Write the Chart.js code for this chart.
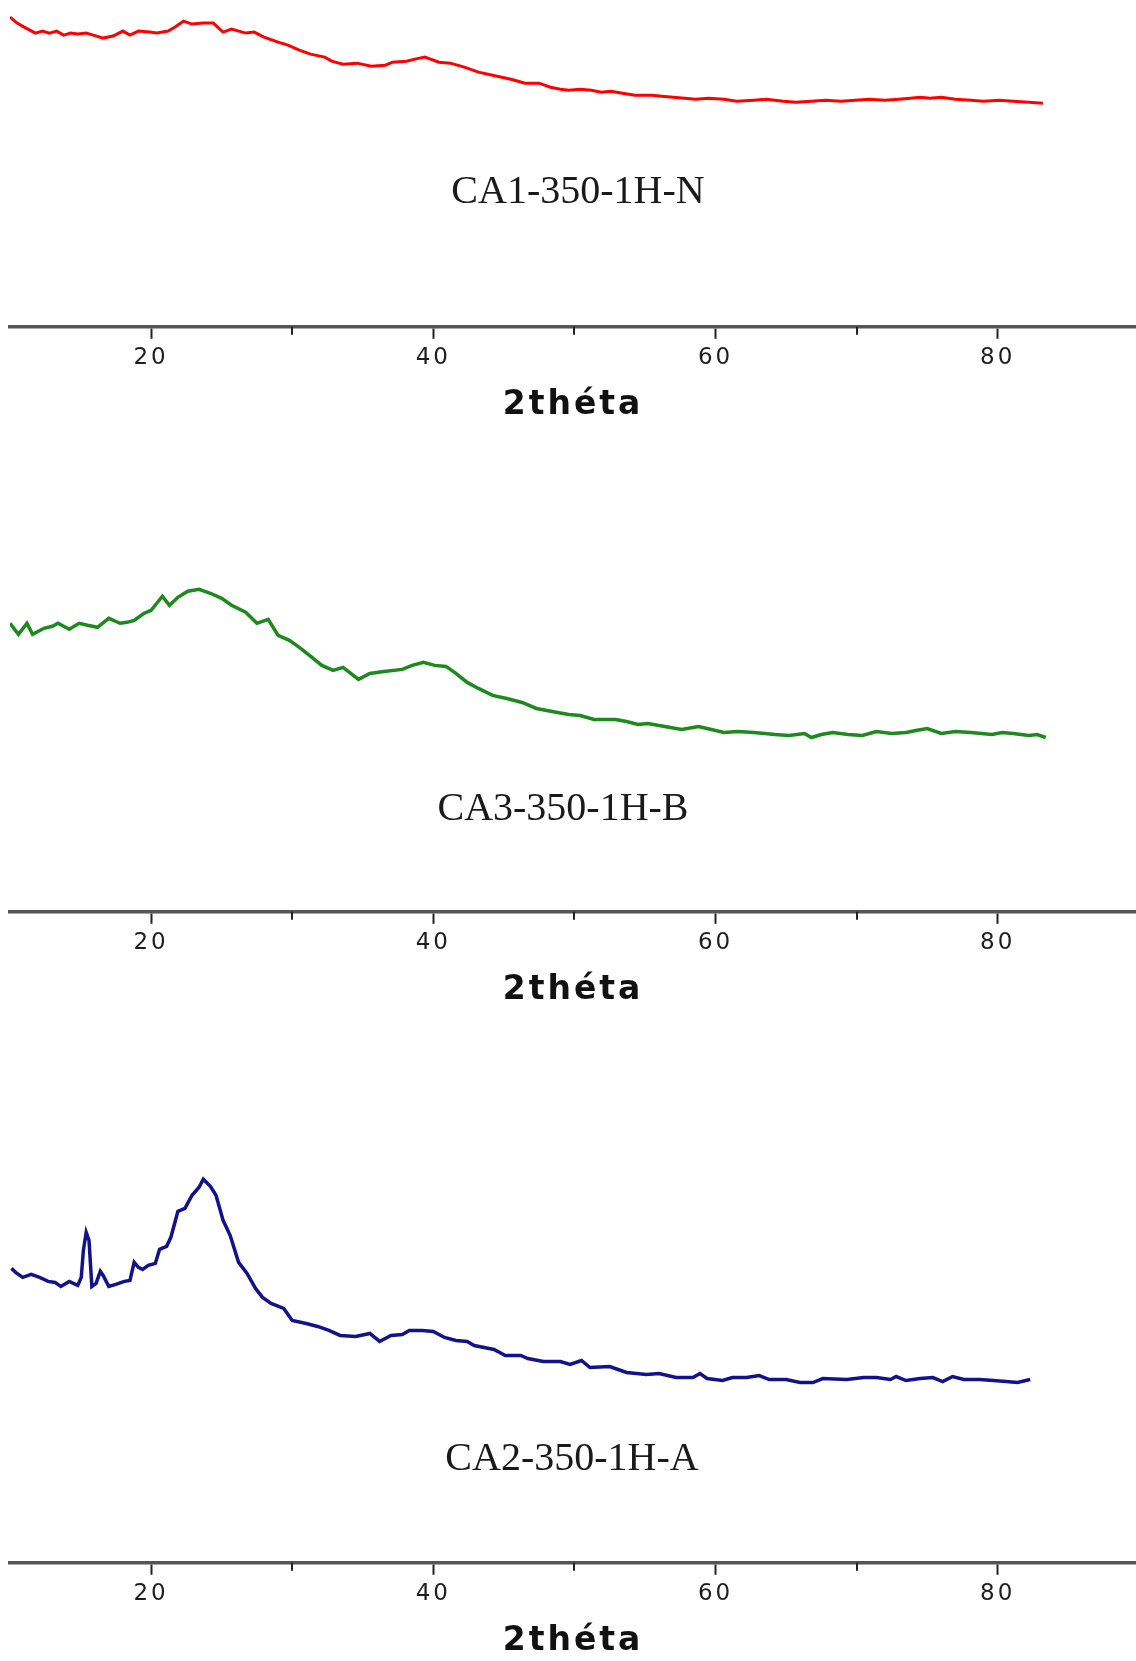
<!DOCTYPE html>
<html lang="fr">
<head>
    <meta charset="UTF-8">
    <title>DRX - 2théta</title>
    <script src="https://cdn.jsdelivr.net/npm/chart.js"></script>
    <style>
        body {
            margin: 0;
            background: #ffffff;
            width: 1136px;
            height: 1661px;
            overflow: hidden;
            position: relative;
        }

        canvas {
            position: absolute;
            left: 0;
        }

        #c1 { top: 0; }
        #c2 { top: 430px; }
        #c3 { top: 1012px; }

        /* sample names sit inside the plots */
        .sample {
            position: absolute;
            font-family: "Liberation Serif", "Times New Roman", serif;
            font-size: 40px;
            line-height: 40px;
            color: #1a1a1a;
            white-space: nowrap;
            transform: translateX(-50%);
        }
        #s1 { left: 578px; top: 170px; }
        #s2 { left: 563px; top: 787px; }
        #s3 { left: 572px; top: 1437px; }
    </style>
</head>
<body>
    <canvas id="c1" width="1136" height="425"></canvas>
    <canvas id="c2" width="1136" height="580"></canvas>
    <canvas id="c3" width="1136" height="649"></canvas>

    <div class="sample" id="s1"></div>
    <div class="sample" id="s2"></div>
    <div class="sample" id="s3"></div>

    <script>
        // [2theta, intensity] (intensity = height above the axis)
        const redPattern = [
            [10.0,309],[10.5,303],[11.0,299],[11.4,296],[11.8,293],[12.3,295],[12.8,293],[13.3,295],[13.8,291],[14.3,293],
            [14.8,292],[15.4,293],[15.9,291],[16.6,288],[17.3,290],[18.0,295],[18.5,291],[19.1,295],[19.9,294],[20.4,293],
            [21.2,295],[21.7,299],[22.3,305],[22.9,302],[23.7,303],[24.4,303],[25.1,294],[25.7,297],[26.7,293],[27.3,294],
            [28.0,289],[29.0,284],[29.7,281],[30.5,276],[31.3,272],[32.3,269],[32.8,265],[33.6,262],[34.6,263],[35.6,260],
            [36.6,261],[37.1,264],[38.1,265],[38.7,267],[39.4,269],[40.4,264],[41.2,263],[42.2,259],[43.2,254],[44.2,251],
            [45.5,247],[46.5,243],[47.5,243],[48.3,239],[49.0,237],[49.6,236],[50.4,237],[51.2,236],[51.9,234],[52.6,235],
            [53.4,233],[54.3,231],[55.5,231],[56.2,230],[57.0,229],[57.8,228],[58.6,227],[59.5,228],[60.6,227],[61.5,225],
            [62.7,226],[63.6,227],[64.8,225],[65.7,224],[66.8,225],[67.8,226],[68.9,225],[69.9,226],[70.9,227],[72.0,226],
            [73.0,227],[73.8,228],[74.5,229],[75.2,228],[76.0,229],[77.0,227],[78.1,226],[79.0,225],[80.1,226],[81.1,225],
            [82.2,224],[83.2,223]
        ];

        const greenPattern = [
            [10.0,288],[10.6,277],[11.2,288],[11.6,277],[12.4,283],[13.0,285],[13.4,288],[14.2,282],[14.9,288],[15.5,286],
            [16.2,284],[17.0,293],[17.8,288],[18.3,289],[18.8,291],[19.5,298],[20.0,301],[20.8,315],[21.3,306],[21.9,314],
            [22.6,320],[23.4,322],[24.2,318],[25.0,313],[25.7,306],[26.7,299],[27.5,288],[28.3,292],[29.0,276],[29.8,271],
            [30.6,263],[31.4,254],[32.1,246],[32.9,241],[33.6,244],[34.7,232],[35.5,238],[36.5,240],[37.8,242],[38.5,246],
            [39.3,249],[40.1,246],[40.9,245],[41.6,238],[42.4,229],[43.2,223],[44.2,216],[45.2,213],[46.3,209],[47.3,203],
            [48.8,199],[49.6,197],[50.4,196],[51.4,192],[52.9,192],[53.7,190],[54.5,187],[55.2,188],[56.0,186],[57.6,182],
            [58.8,185],[59.7,182],[60.6,179],[61.6,180],[62.7,179],[63.5,178],[64.2,177],[65.2,176],[66.3,178],[66.8,174],
            [67.5,177],[68.3,179],[69.4,177],[70.4,176],[71.4,180],[72.5,178],[73.5,179],[74.2,181],[75.0,183],[76.0,178],
            [77.0,180],[78.1,179],[79.6,177],[80.3,179],[81.1,178],[82.2,176],[82.8,177],[83.4,174]
        ];

        const bluePattern = [
            [10.1,294],[10.4,290],[10.9,285],[11.5,288],[12.1,285],[12.7,281],[13.2,280],[13.6,276],[14.2,281],[14.8,277],
            [15.05,285],[15.2,312],[15.4,330],[15.6,322],[15.8,276],[16.1,279],[16.4,291],[16.6,287],[17.0,276],[17.5,278],
            [18.1,281],[18.5,282],[18.8,300],[19.1,295],[19.4,293],[19.8,297],[20.3,299],[20.6,313],[21.1,316],[21.4,325],
            [21.9,351],[22.4,354],[22.9,367],[23.4,375],[23.7,383],[24.2,376],[24.6,367],[25.1,342],[25.6,327],[26.2,300],
            [26.8,289],[27.4,274],[27.9,265],[28.5,259],[29.4,254],[30.0,242],[31.0,239],[31.8,236],[32.6,232],[33.4,227],
            [34.5,226],[35.5,229],[36.2,221],[37.0,227],[37.8,228],[38.3,232],[39.2,232],[40.0,231],[40.8,225],[41.6,222],
            [42.4,221],[42.9,217],[44.3,213],[45.1,207],[46.2,207],[46.7,204],[47.8,201],[49.0,201],[49.7,198],[50.5,202],
            [51.1,195],[52.5,196],[53.7,190],[55.1,188],[56.0,189],[57.2,185],[58.4,185],[58.9,189],[59.4,184],[60.5,182],
            [61.2,185],[62.2,185],[63.1,187],[63.8,183],[65.0,183],[66.0,180],[66.9,180],[67.6,184],[69.3,183],[70.5,185],
            [71.4,185],[72.4,183],[72.8,186],[73.5,182],[74.5,184],[75.4,185],[76.1,181],[76.8,186],[77.6,183],[78.7,183],
            [79.7,182],[80.6,181],[81.4,180],[82.3,183]
        ];

        const sampleNames = ['CA1-350-1H-N', 'CA3-350-1H-B', 'CA2-350-1H-A'];
        const axisTitle = '2théta';
        const majorTicks = [20, 40, 60, 80];
        const minorTicks = [30, 50, 70];
        const xMin = 10;
        const xMax = 89.8;

        // short minor tick marks (Chart.js draws all ticks the same length)
        const minorTickPlugin = {
            id: 'minorTicks',
            afterDraw(chart) {
                const ctx = chart.ctx;
                const xs = chart.scales.x;
                const y0 = chart.chartArea.bottom;
                ctx.save();
                ctx.strokeStyle = '#222';
                ctx.lineWidth = 2;
                minorTicks.forEach(v => {
                    const px = Math.round(xs.getPixelForValue(v));
                    ctx.beginPath();
                    ctx.moveTo(px, y0);
                    ctx.lineTo(px, y0 + 8);
                    ctx.stroke();
                });
                ctx.restore();
            }
        };

        const spacingPlugin = {
            id: 'spacing',
            beforeDraw(chart) {
                chart.ctx.letterSpacing = '3px';
            }
        };

        function makeChart(id, pattern, color, width, yMax) {
            new Chart(document.getElementById(id), {
                type: 'line',
                data: {
                    datasets: [{
                        data: pattern.map(p => ({ x: p[0], y: p[1] })),
                        borderColor: color,
                        borderWidth: width,
                        pointRadius: 0,
                        tension: 0,
                        fill: false
                    }]
                },
                options: {
                    responsive: false,
                    animation: false,
                    layout: { padding: { left: 10, right: 0, top: 0, bottom: 0 } },
                    plugins: {
                        legend: { display: false },
                        tooltip: { enabled: false }
                    },
                    scales: {
                        x: {
                            type: 'linear',
                            min: xMin,
                            max: xMax,
                            afterBuildTicks: scale => {
                                scale.ticks = majorTicks.map(v => ({ value: v }));
                            },
                            border: { display: true, color: '#555', width: 3.5 },
                            grid: {
                                drawOnChartArea: false,
                                drawTicks: true,
                                tickLength: 12,
                                tickWidth: 2,
                                tickColor: '#222'
                            },
                            ticks: {
                                padding: 5,
                                color: '#1e1e1e',
                                font: { family: 'DejaVu Sans', size: 23 }
                            },
                            title: {
                                display: true,
                                text: axisTitle,
                                color: '#111',
                                padding: { top: 9, bottom: 0 },
                                font: { family: 'DejaVu Sans', size: 33, weight: 'bold' }
                            }
                        },
                        y: {
                            display: false,
                            min: 0,
                            max: yMax
                        }
                    }
                },
                plugins: [spacingPlugin, minorTickPlugin]
            });
        }

        makeChart('c1', redPattern, '#ff0000', 3, 326);
        makeChart('c2', greenPattern, '#1c8a1c', 3.5, 481);
        makeChart('c3', bluePattern, '#12128c', 3.5, 550);

        document.getElementById('s1').textContent = sampleNames[0];
        document.getElementById('s2').textContent = sampleNames[1];
        document.getElementById('s3').textContent = sampleNames[2];
    </script>
</body>
</html>
